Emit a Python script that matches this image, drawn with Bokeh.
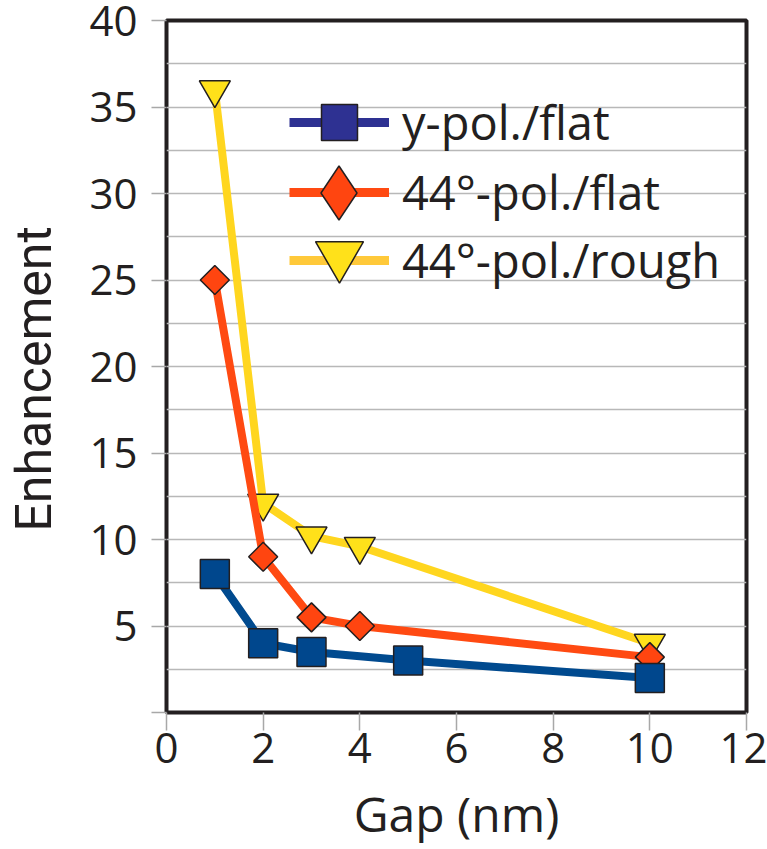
import math
from bokeh.plotting import figure
from bokeh.models import Range1d, FixedTicker, Legend, LegendItem
from bokeh.embed import file_html
from bokeh.resources import INLINE

# ---------------- data ----------------
gap_ypol = [1, 2, 3, 5, 10]
enh_ypol_flat = [8.0, 4.0, 3.5, 3.0, 2.0]

gap_44pol = [1, 2, 3, 4, 10]
enh_44pol_flat = [25.0, 9.0, 5.5, 5.0, 3.2]
enh_44pol_rough = [36.0, 12.1, 10.2, 9.6, 4.0]

series_labels = ["y-pol./flat", "44°-pol./flat", "44°-pol./rough"]
x_ticks = [0, 2, 4, 6, 8, 10, 12]
y_ticks = [0, 5, 10, 15, 20, 25, 30, 35, 40]
y_grid = [2.5, 5, 7.5, 10, 12.5, 15, 17.5, 20, 22.5, 25, 27.5, 30, 32.5, 35, 37.5]
x_title = "Gap (nm)"
y_title = "Enhancement"

FONT = "Open Sans"
INK = "#231F20"

p = figure(width=767, height=849,
           x_range=Range1d(0, 12), y_range=Range1d(0, 40),
           output_backend="svg", toolbar_location=None,
           min_border_left=166, min_border_right=21,
           min_border_top=20, min_border_bottom=137)
p.background_fill_color = "white"
p.border_fill_color = "white"
p.outline_line_color = INK
p.outline_line_width = 4

# axes
for ax in (p.xaxis[0], p.yaxis[0]):
    ax.axis_line_color = None
    ax.major_tick_in = 0
    ax.major_tick_line_color = "#a8a8a8"
    ax.major_tick_line_width = 1.5
    ax.minor_tick_line_color = None
    ax.major_label_text_font = FONT
    ax.major_label_text_font_size = "42px"
    ax.major_label_text_color = INK
    ax.axis_label_text_font = FONT
    ax.axis_label_text_font_size = "48px"
    ax.axis_label_text_font_style = "normal"
    ax.axis_label_text_color = INK

p.xaxis.ticker = FixedTicker(ticks=x_ticks)
p.xaxis.major_tick_out = 18
p.xaxis.major_label_standoff = 2
p.xaxis.axis_label = x_title
p.xaxis.axis_label_standoff = 15

p.yaxis.ticker = FixedTicker(ticks=y_ticks)
p.yaxis.major_tick_out = 15
p.yaxis.major_label_standoff = 14
p.yaxis.major_label_overrides = {0: ""}
# two trailing no-break spaces nudge the centred title a little lower, as in the reference
p.yaxis.axis_label = y_title + "\u00a0\u00a0"
p.yaxis.axis_label_text_font = "Roboto"
p.yaxis.axis_label_text_font_size = "50px"
p.yaxis.axis_label_standoff = 23

p.xgrid.visible = False
p.ygrid.ticker = FixedTicker(ticks=y_grid)
p.ygrid.grid_line_color = "#b8b8b8"
p.ygrid.grid_line_width = 1.5

# data series (drawn so that the blue series is on top)
r_y_line = p.line(gap_44pol, enh_44pol_rough, line_color="#FFD61F", line_width=8, line_join="round")
r_y_mark = p.scatter(gap_44pol, enh_44pol_rough, marker="inverted_triangle", size=31,
                     fill_color="#FFE11A", line_color=INK, line_width=1.5)

r_r_line = p.line(gap_44pol, enh_44pol_flat, line_color="#FF4A12", line_width=8, line_join="round")
r_r_mark = p.scatter(gap_44pol, enh_44pol_flat, marker="square", angle=math.pi / 4, size=20.5,
                     fill_color="#FF4510", line_color=INK, line_width=1.5)

r_b_line = p.line(gap_ypol, enh_ypol_flat, line_color="#004A8F", line_width=8, line_join="round")
r_b_mark = p.scatter(gap_ypol, enh_ypol_flat, marker="square", size=29,
                     fill_color="#00478D", line_color=INK, line_width=1.5)

# hidden copies of the series, used only for the legend swatches
# (the legend of the reference uses its own swatch colours and shapes)
lg_b_line = p.line(gap_ypol, enh_ypol_flat, line_color="#2E3192", line_width=9, visible=False)
lg_b_mark = p.scatter(gap_ypol, enh_ypol_flat, marker="square",
                      fill_color="#2E3192", line_color=INK, line_width=1.5, visible=False)
lg_r_line = p.line(gap_44pol, enh_44pol_flat, line_color="#FF4A12", line_width=9, visible=False)
lg_r_mark = p.scatter(gap_44pol, enh_44pol_flat, marker="diamond",
                      fill_color="#FF4510", line_color=INK, line_width=1.5, visible=False)
lg_y_line = p.line(gap_44pol, enh_44pol_rough, line_color="#FFC93A", line_width=9, visible=False)
lg_y_mark = p.scatter(gap_44pol, enh_44pol_rough, marker="inverted_triangle",
                      fill_color="#FFE11A", line_color=INK, line_width=1.5, visible=False)


def add_legend(label, renderers, gw, gh, vx, vy, standoff):
    lg = Legend(items=[LegendItem(label=label, renderers=renderers)],
                location=(vx, vy), glyph_width=gw, glyph_height=gh,
                padding=0, margin=0, spacing=0, label_standoff=standoff,
                background_fill_alpha=0, border_line_alpha=0,
                inactive_fill_alpha=0,
                label_text_font=FONT, label_text_font_size="47px",
                label_text_color=INK)
    p.add_layout(lg)


# line + label for each row
add_legend(series_labels[0], [lg_b_line], 100, 70, 123, 555, 13)
add_legend(series_labels[1], [lg_r_line], 100, 70, 123, 485, 13)
add_legend(series_labels[2], [lg_y_line], 100, 70, 123, 417, 13)
# marker swatches on top (marker size = 0.4 * glyph box)
add_legend("", [lg_b_mark], 90, 90, 127.5, 545, 0)
add_legend("", [lg_r_mark], 135, 135, 105, 452.5, 0)
add_legend("", [lg_y_mark], 120, 120, 112.5, 397.5, 0)

open("out.html", "w").write(file_html(p, INLINE))
